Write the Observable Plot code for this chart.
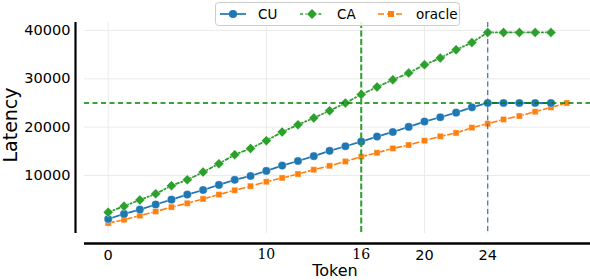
<!DOCTYPE html>
<html>
<head>
<meta charset="utf-8">
<script src="https://cdn.jsdelivr.net/npm/d3@7"></script>
<script src="https://cdn.jsdelivr.net/npm/@observablehq/plot@0.6"></script>
<style>
  html, body { margin: 0; padding: 0; background: white; }
  #chart { width: 590px; height: 280px; overflow: hidden; }
</style>
</head>
<body>
<div id="chart"></div>
<script>
// ---- data ----
const cuTokens = [0,1,2,3,4,5,6,7,8,9,10,11,12,13,14,15,16,17,18,19,20,21,22,23,24,25,26,27,28];
const cuValues = [1000,2050,2950,4000,5000,6050,7000,8050,9100,9900,10950,12050,13000,14000,15100,16050,17000,18050,19000,20050,21150,22050,23000,24100,25000,25000,25000,25000,25000];
const caTokens = [0,1,2,3,4,5,6,7,8,9,10,11,12,13,14,15,16,17,18,19,20,21,22,23,24,25,26,27,28];
const caValues = [2400,3650,4950,6200,7900,9100,10700,12450,14300,15600,17200,19000,20500,21900,23400,25000,26750,28300,29800,31200,32900,34300,36000,37500,39600,39600,39600,39600,39600];
const oracleTokens = [0,1,2,3,4,5,6,7,8,9,10,11,12,13,14,15,16,17,18,19,20,21,22,23,24,25,26,27,28,29];
const oracleValues = [150,850,1700,2550,3450,4250,5150,6050,6950,7800,8700,9500,10300,11200,12000,12900,13900,14700,15600,16300,17200,18100,18800,19900,20700,21600,22300,23200,24100,25000];

const yTicks = [10000, 20000, 30000, 40000];
const xTicksSans = [0, 20, 24];
const xTicksSerif = [10, 16];
const xGridTicks = [0, 10, 16, 20, 24];
const latencyThreshold = [25000];
const tokenMarkCA = [16];
const tokenMarkCU = [24];
const xDomain = [-1.5, 30.5];
const yDomain = [-2000, 41650];

const seriesNames = ["CU", "CA", "oracle"];
const seriesColors = ["#1f77b4", "#2ca02c", "#ff7f0e"];

const toRows = (ts, vs) => ts.map((t, i) => ({t, v: vs[i]}));
const cu = toRows(cuTokens, cuValues);
const ca = toRows(caTokens, caValues);
const oracle = toRows(oracleTokens, oracleValues);

const dotStyle = {stroke: "white", strokeWidth: 0.6, strokeOpacity: 0.6};

const chart = Plot.plot({
  width: 590,
  height: 280,
  marginLeft: 84,
  marginRight: 0,
  marginTop: 22,
  marginBottom: 47,
  x: {domain: xDomain},
  y: {domain: yDomain},
  style: {fontFamily: "DejaVu Sans", fontSize: "14.5px", color: "black", background: "white", overflow: "visible"},
  marks: [
    Plot.gridY(yTicks, {stroke: "#e6e6e6", strokeOpacity: 1, strokeWidth: 0.8}),
    Plot.gridX(xGridTicks, {stroke: "#e6e6e6", strokeOpacity: 1, strokeWidth: 0.8}),
    Plot.axisY(yTicks, {tickSize: 0, tickPadding: 14, label: null, fontSize: 14.5, tickFormat: d3.format("d")}),
    Plot.axisX(xTicksSans, {tickSize: 0, tickPadding: 16, label: null, fontSize: 14.5}),
    Plot.axisX(xTicksSerif, {tickSize: 0, tickPadding: 16, label: null, fontSize: 14, fontFamily: "DejaVu Serif"}),
    Plot.ruleX([xDomain[0]], {dx: -9, stroke: "black", strokeWidth: 2.2}),
    Plot.ruleY([yDomain[0]], {dy: 10, stroke: "black", strokeWidth: 2.6}),

    Plot.line(oracle, {x: "t", y: "v", stroke: seriesColors[2], strokeWidth: 1.6, strokeDasharray: "6,3"}),
    Plot.dot(oracle, {x: "t", y: "v", symbol: "square", r: 3.4, fill: seriesColors[2], ...dotStyle}),
    Plot.line(cu, {x: "t", y: "v", stroke: seriesColors[0], strokeWidth: 1.8}),
    Plot.dot(cu, {x: "t", y: "v", symbol: "circle", r: 4.1, fill: seriesColors[0], ...dotStyle}),
    Plot.line(ca, {x: "t", y: "v", stroke: seriesColors[1], strokeWidth: 1.8, strokeDasharray: "3,2.5,1.2,2.5"}),
    Plot.dot(ca, {x: "t", y: "v", symbol: "diamond2", r: 4.5, fill: seriesColors[1], ...dotStyle}),

    Plot.ruleY(latencyThreshold, {stroke: "#008000", strokeWidth: 1.3, strokeDasharray: "5,3.5"}),
    Plot.ruleX(tokenMarkCA, {stroke: "#2ca02c", strokeWidth: 2, strokeDasharray: "6,2.5"}),
    Plot.ruleX(tokenMarkCU, {stroke: "#3a74a6", strokeWidth: 1.2, strokeDasharray: "5,3.5"})
  ]
});

document.getElementById("chart").appendChild(chart);

const svg = d3.select(chart);

// axis titles
svg.append("text")
  .attr("transform", "translate(17,125) rotate(-90)")
  .attr("text-anchor", "middle")
  .attr("font-family", "DejaVu Sans")
  .attr("font-size", 19)
  .attr("fill", "black")
  .text("Latency");
svg.append("text")
  .attr("x", 335)
  .attr("y", 276)
  .attr("text-anchor", "middle")
  .attr("font-family", "DejaVu Sans")
  .attr("font-size", 16)
  .attr("fill", "black")
  .text("Token");

// legend
const lg = svg.append("g");
lg.append("rect")
  .attr("x", 215.5).attr("y", 2.5).attr("width", 244).attr("height", 23).attr("rx", 3)
  .attr("fill", "white").attr("fill-opacity", 0.85)
  .attr("stroke", "#cccccc").attr("stroke-width", 1);
const items = [
  {x0: 220, x1: 246, text: 258, dash: null, sym: d3.symbolCircle, size: Math.PI * 4.1 * 4.1},
  {x0: 300, x1: 324, text: 337, dash: "3,2.5,1.2,2.5", sym: d3.symbolDiamond2, size: Math.PI * 4.5 * 4.5},
  {x0: 378, x1: 404, text: 416, dash: "6,3", sym: d3.symbolSquare, size: Math.PI * 3.4 * 3.4}
];
items.forEach((it, i) => {
  const ly = 14;
  lg.append("line")
    .attr("x1", it.x0).attr("x2", it.x1).attr("y1", ly).attr("y2", ly)
    .attr("stroke", seriesColors[i]).attr("stroke-width", 1.7)
    .attr("stroke-dasharray", it.dash);
  lg.append("path")
    .attr("d", d3.symbol(it.sym, it.size)())
    .attr("transform", `translate(${(it.x0 + it.x1) / 2},${ly})`)
    .attr("fill", seriesColors[i]);
  lg.append("text")
    .attr("x", it.text).attr("y", ly + 5)
    .attr("text-anchor", "start")
    .attr("font-family", "DejaVu Sans").attr("font-size", 13.5)
    .attr("fill", "black")
    .text(seriesNames[i]);
});
</script>
</body>
</html>
